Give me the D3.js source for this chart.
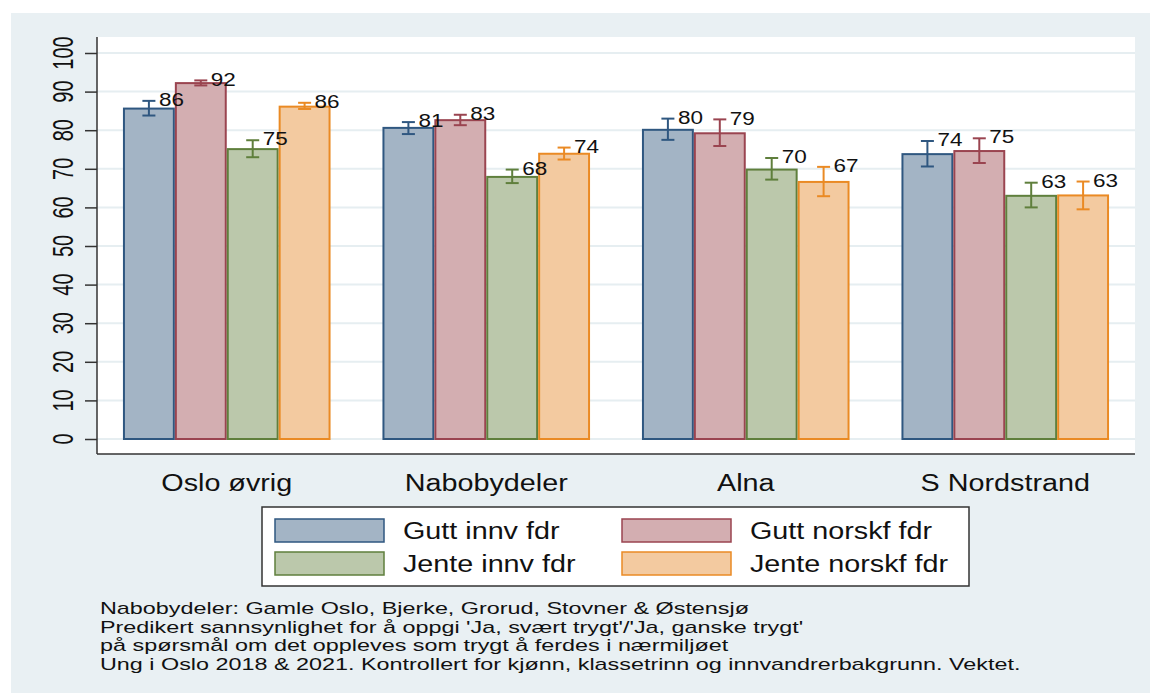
<!DOCTYPE html>
<html lang="no">
<head>
    <meta charset="UTF-8"/>
    <title>Trygt i nærmiljøet</title>
    <script src="https://d3js.org/d3.v7.min.js"></script>
    <style>
        body, html {
            margin: 0;
            padding: 0;
            background: #fff;
        }
        svg text {
            font-family: "Liberation Sans", Arial, sans-serif;
            fill: #111;
        }
    </style>
</head>
<body>
<svg id="chart" width="1150" height="693"></svg>
<script>
    // data
    const categories = ["Oslo øvrig", "Nabobydeler", "Alna", "S Nordstrand"];
    const seriesNames = ["Gutt innv fdr", "Gutt norskf fdr", "Jente innv fdr", "Jente norskf fdr"];

    const guttInnv = [85.6, 80.6, 80.1, 73.8];
    const guttInnvLo = [83.8, 79.0, 77.5, 70.6];
    const guttInnvHi = [87.6, 82.1, 83.0, 77.2];

    const guttNorsk = [92.2, 82.6, 79.2, 74.6];
    const guttNorskLo = [91.6, 81.3, 75.9, 71.5];
    const guttNorskHi = [92.9, 84.0, 82.8, 77.9];

    const jenteInnv = [75.1, 67.9, 69.8, 63.0];
    const jenteInnvLo = [73.0, 66.3, 67.2, 60.0];
    const jenteInnvHi = [77.4, 69.8, 72.8, 66.4];

    const jenteNorsk = [86.1, 73.9, 66.6, 63.1];
    const jenteNorskLo = [85.5, 72.4, 62.9, 59.5];
    const jenteNorskHi = [87.1, 75.5, 70.5, 66.7];

    const yTicks = [0, 10, 20, 30, 40, 50, 60, 70, 80, 90, 100];

    const notes = [
        "Nabobydeler: Gamle Oslo, Bjerke, Grorud, Stovner & Østensjø",
        "Predikert sannsynlighet for å oppgi 'Ja, svært trygt'/'Ja, ganske trygt'",
        "på spørsmål om det oppleves som trygt å ferdes i nærmiljøet",
        "Ung i Oslo 2018 & 2021. Kontrollert for kjønn, klassetrinn og innvandrerbakgrunn. Vektet."
    ];

    const fills = ["#a3b4c5", "#d3aeb1", "#bbc8ab", "#f3caa0"];
    const strokes = ["#2f5780", "#9a4450", "#5f7f3c", "#ea8a24"];

    const series = [
        {name: seriesNames[0], vals: guttInnv, lo: guttInnvLo, hi: guttInnvHi},
        {name: seriesNames[1], vals: guttNorsk, lo: guttNorskLo, hi: guttNorskHi},
        {name: seriesNames[2], vals: jenteInnv, lo: jenteInnvLo, hi: jenteInnvHi},
        {name: seriesNames[3], vals: jenteNorsk, lo: jenteNorskLo, hi: jenteNorskHi}
    ];

    // the picture is a bit stretched sideways, so text gets the same squeeze
    const sx = 1.25;

    const svg = d3.select("#chart");
    const plot = {left: 97, right: 1135, top: 37, bottom: 454};

    svg.append("rect").attr("x", 11).attr("y", 13).attr("width", 1139).attr("height", 680)
        .attr("fill", "#e9f0f3");
    svg.append("rect").attr("x", plot.left).attr("y", plot.top)
        .attr("width", plot.right - plot.left).attr("height", plot.bottom - plot.top)
        .attr("fill", "#fff");

    const y = d3.scaleLinear().domain([0, 100]).range([439, 53]);
    const x0 = d3.scaleBand().domain(categories).range([plot.left, plot.right])
        .paddingInner(0.2).paddingOuter(0.1);
    const x1 = d3.scaleBand().domain(seriesNames).range([0, x0.bandwidth()]);

    // grid
    svg.append("g").selectAll("line").data(yTicks).join("line")
        .attr("x1", plot.left).attr("x2", plot.right)
        .attr("y1", d => y(d)).attr("y2", d => y(d))
        .attr("stroke", "#e6eef1").attr("stroke-width", 2);

    // y axis
    const yAxis = svg.append("g").attr("transform", `translate(${plot.left},0)`)
        .call(d3.axisLeft(y).tickValues(yTicks).tickSize(12).tickFormat(""));
    yAxis.select(".domain").remove();
    yAxis.selectAll(".tick line").attr("stroke", "#333").attr("stroke-width", 1.5);

    svg.append("g").selectAll("text").data(yTicks).join("text")
        .attr("transform", d => `translate(73,${y(d)}) scale(1.45,1) rotate(-90)`)
        .attr("text-anchor", "middle")
        .attr("font-size", 20)
        .text(d => d);

    svg.append("line").attr("x1", plot.left).attr("x2", plot.left)
        .attr("y1", plot.top).attr("y2", plot.bottom)
        .attr("stroke", "#333").attr("stroke-width", 1.5);
    svg.append("line").attr("x1", plot.left).attr("x2", plot.right)
        .attr("y1", plot.bottom).attr("y2", plot.bottom)
        .attr("stroke", "#333").attr("stroke-width", 1.5);

    // bars and error bars, one group per series
    const labelLayer = [];
    series.forEach((s, si) => {
        const g = svg.append("g");
        const rows = categories.map((c, i) => ({c: c, v: s.vals[i], lo: s.lo[i], hi: s.hi[i]}));
        const cx = d => x0(d.c) + x1(s.name) + x1.bandwidth() / 2;

        g.selectAll("rect").data(rows).join("rect")
            .attr("x", d => x0(d.c) + x1(s.name) + 1)
            .attr("y", d => y(d.v))
            .attr("width", x1.bandwidth() - 2)
            .attr("height", d => y(0) - y(d.v))
            .attr("fill", fills[si])
            .attr("stroke", strokes[si])
            .attr("stroke-width", 2);

        g.selectAll("line.ci").data(rows).join("line").attr("class", "ci")
            .attr("x1", cx).attr("x2", cx)
            .attr("y1", d => y(d.lo)).attr("y2", d => y(d.hi))
            .attr("stroke", strokes[si]).attr("stroke-width", 2);
        ["lo", "hi"].forEach(k => {
            g.selectAll("line.cap-" + k).data(rows).join("line").attr("class", "cap-" + k)
                .attr("x1", d => cx(d) - 6.5).attr("x2", d => cx(d) + 6.5)
                .attr("y1", d => y(d[k])).attr("y2", d => y(d[k]))
                .attr("stroke", strokes[si]).attr("stroke-width", 2);
        });

        rows.forEach(d => labelLayer.push({x: cx(d), hi: d.hi, v: d.v}));
    });

    // value labels go on top of every bar
    svg.append("g").selectAll("text").data(labelLayer).join("text")
        .attr("transform", d => `translate(${d.x + 10},${y(d.hi) - 1}) scale(${sx},1)`)
        .attr("dominant-baseline", "central")
        .attr("font-size", 18)
        .text(d => Math.round(d.v));

    // category labels
    svg.append("g").selectAll("text").data(categories).join("text")
        .attr("transform", d => `translate(${x0(d) + x0.bandwidth() / 2},491) scale(${sx},1)`)
        .attr("text-anchor", "middle")
        .attr("font-size", 23)
        .text(d => d);

    // legend
    const legend = svg.append("g");
    legend.append("rect").attr("x", 262).attr("y", 507).attr("width", 707).attr("height", 79)
        .attr("fill", "#fff").attr("stroke", "#333").attr("stroke-width", 1.5);
    const legendPos = [[275, 519], [622, 519], [275, 552], [622, 552]];
    seriesNames.forEach((name, i) => {
        const [lx, ly] = legendPos[i];
        legend.append("rect").attr("x", lx).attr("y", ly).attr("width", 109).attr("height", 23)
            .attr("fill", fills[i]).attr("stroke", strokes[i]).attr("stroke-width", 1.5);
        legend.append("text")
            .attr("transform", `translate(${lx + 128},${ly + 12}) scale(${sx},1)`)
            .attr("dominant-baseline", "central")
            .attr("font-size", 23)
            .text(name);
    });

    // notes, tighter glyphs so the four lines don't collide
    svg.append("g").selectAll("text").data(notes).join("text")
        .attr("transform", (d, i) => `translate(100,${614 + i * 18.7}) scale(1.46,1)`)
        .attr("font-size", 16)
        .text(d => d);
</script>
</body>
</html>
